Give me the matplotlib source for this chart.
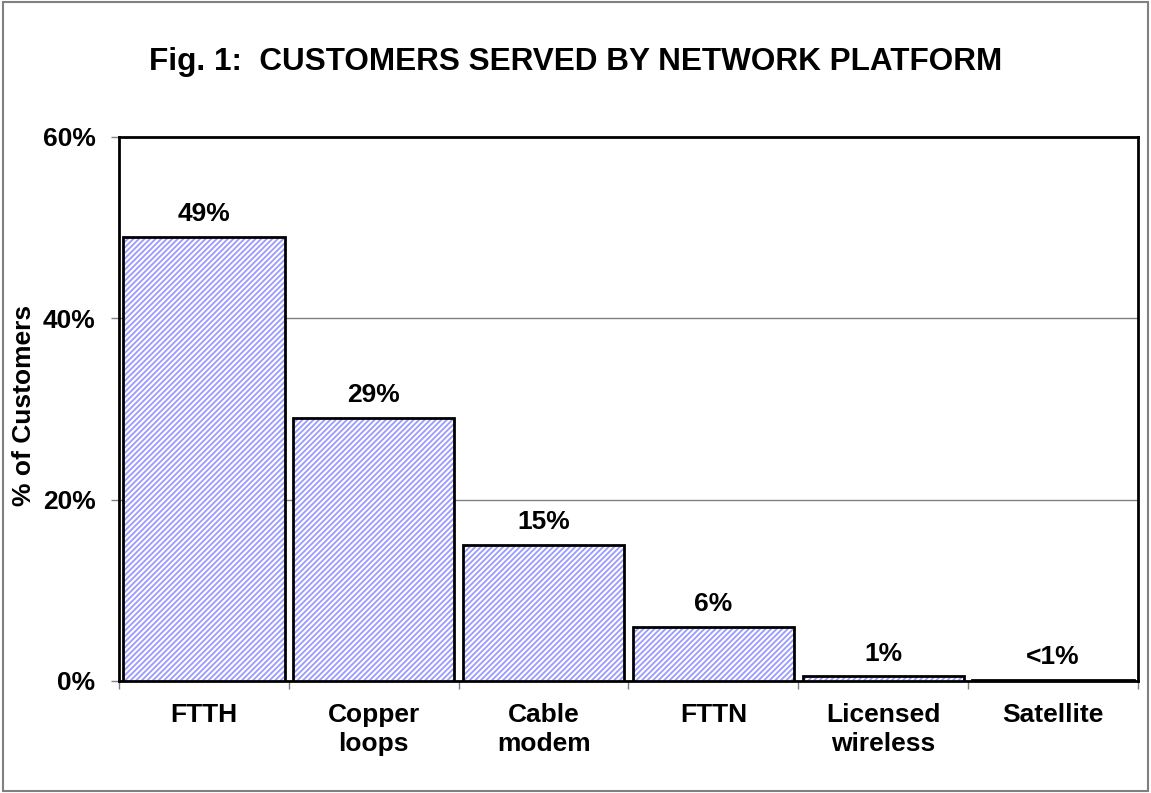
import numpy as np
import matplotlib.pyplot as plt
import matplotlib as mpl

plt.rcParams['font.family'] = ['Liberation Sans', 'DejaVu Sans']
plt.rcParams['font.weight'] = 'bold'
plt.rcParams['hatch.linewidth'] = 1.3

categories = ['FTTH', 'Copper\nloops', 'Cable\nmodem', 'FTTN', 'Licensed\nwireless', 'Satellite']
values = [49, 29, 15, 6, 0.5, 0.1]
labels = ['49%', '29%', '15%', '6%', '1%', '<1%']
yticks = [0, 20, 40, 60]

fig = plt.figure(figsize=(11.51, 7.93), dpi=100)
ax = fig.add_axes([119 / 1151, 1 - 681 / 793, (1138 - 119) / 1151, (681 - 137) / 793])

x = np.arange(len(categories))
# hatch drawn in blue, outline drawn separately in black
ax.bar(x, values, width=0.95, color='white', edgecolor='#9a9aff', linewidth=0,
       hatch='//////', zorder=3)
ax.bar(x, values, width=0.95, fill=False, edgecolor='black', linewidth=2, zorder=4)
for xi, v, lab in zip(x, values, labels):
    ax.text(xi, v + 1.2, lab, ha='center', va='bottom', fontsize=19, fontweight='bold')

ax.set_xlim(-0.5, len(categories) - 0.5)
ax.set_ylim(0, 60)
ax.set_yticks(yticks)
ax.set_yticklabels([f'{t}%' for t in yticks], fontsize=19, fontweight='bold')
ax.yaxis.grid(True, color='#808080', linewidth=1, zorder=0)

ax.set_xticks(x)
ax.set_xticklabels(categories, fontsize=19, fontweight='bold', linespacing=1.25)
ax.tick_params(axis='x', length=0, pad=16)
ax.set_xticks(np.arange(len(categories) + 1) - 0.5, minor=True)
ax.tick_params(axis='x', which='minor', length=6, color='#808080', width=1)
ax.tick_params(axis='y', length=6, color='#808080', width=1, pad=11)

for s in ax.spines.values():
    s.set_linewidth(2)
    s.set_color('black')

fig.text(24 / 1151, 1 - 405 / 793, '% of Customers', rotation=90, ha='center', va='center',
         fontsize=19, fontweight='bold')
fig.text(0.5, 1 - 62 / 793, 'Fig. 1:  CUSTOMERS SERVED BY NETWORK PLATFORM',
         ha='center', va='center', fontsize=22.7, fontweight='bold')

border = mpl.patches.Rectangle((0.003, 0.003), 0.994, 0.994, transform=fig.transFigure,
                               fill=False, edgecolor='#808080', linewidth=1.5)
fig.patches.append(border)

fig.savefig('out.png', dpi=100)
